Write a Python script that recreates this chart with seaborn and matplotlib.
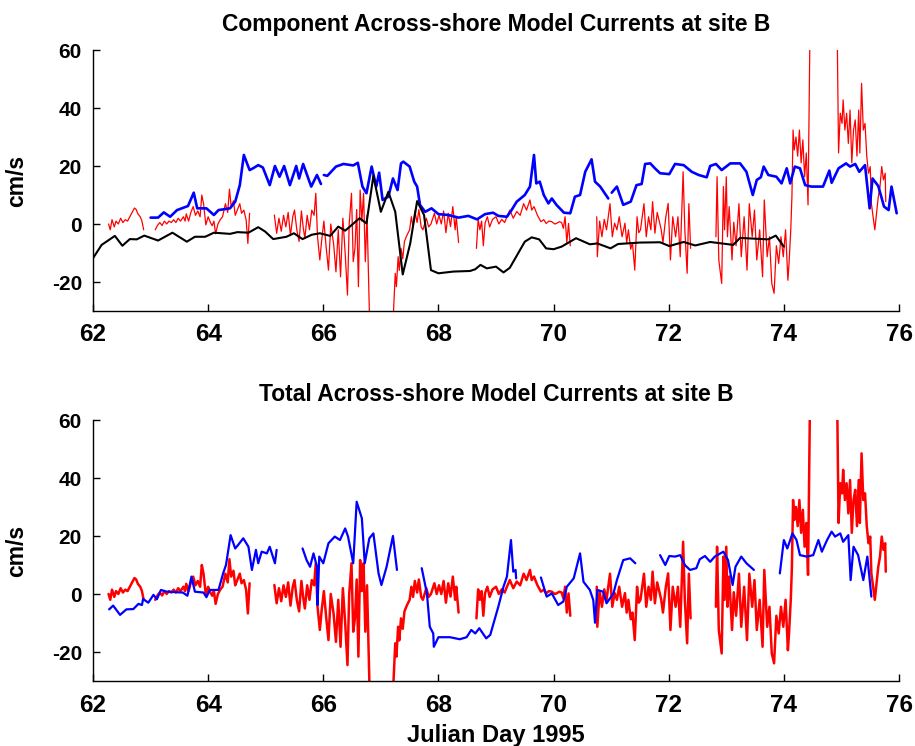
import numpy as np
import pandas as pd
import matplotlib
matplotlib.use('Agg')
import matplotlib.pyplot as plt
import seaborn as sns

nan = np.nan

# observed across-shore current (red), same record in both panels; nan = data gap
red_day = [62.27, 62.30, 62.33, 62.37, 62.40, 62.44, 62.48, 62.52, 62.56, 62.60, 62.64, 62.68, 62.72, 62.75, 62.78, 62.82, 62.85, 62.88, nan,
           63.08, 63.12, 63.16, 63.20, 63.24, 63.28, 63.32, 63.36, 63.40, 63.44, 63.48, 63.52, 63.57, 63.60, 63.62, 63.66, 63.70, 63.74, 63.78, 63.82,
           63.86, 63.89, 63.92, 63.96, 64.00, 64.04, 64.07, 64.10, 64.13, 64.17, 64.21, 64.25, 64.30, 64.34, 64.37, 64.40, 64.44, 64.47, 64.50, 64.55,
           64.58, 64.62, 64.66, 64.69, 64.72, nan,
           65.15, 65.19, 65.23, 65.27, 65.31, 65.35, 65.39, 65.43, 65.47, 65.50, 65.54, 65.58, 65.62, 65.65, 65.68, 65.72, 65.76, 65.80, 65.84, 65.87,
           65.90, 65.94, 65.97, 66.01, 66.05, 66.09, 66.13, 66.18, 66.22, 66.26, 66.30, 66.34, 66.38, 66.42, 66.45, 66.49, 66.52, 66.55, 66.58, 66.61,
           66.64, 66.67, 66.70, 66.73, 66.76, 66.80, 66.83, 67.19, 67.22, 67.25, 67.27, 67.30, 67.32, 67.35, 67.38, 67.41, 67.45, 67.50, 67.53, 67.56,
           67.59, 67.63, 67.66, 67.70, 67.73, 67.79, 67.83, 67.87, 67.93, 67.97, 68.01, 68.05, 68.09, 68.13, 68.17, 68.21, 68.25, 68.29, 68.31, 68.35, nan,
           68.66, 68.69, 68.72, 68.75, 68.78, 68.81, 68.85, 68.89, 68.94, 69.00, 69.05, 69.10, 69.15, 69.19, 69.24, 69.30, 69.36, 69.42, 69.48, 69.53,
           69.59, 69.62, 69.66, 69.72, 69.78, 69.83, 69.87, 69.92, 69.97, 70.02, 70.05, 70.10, 70.14, 70.17, 70.20, 70.23, 70.26, 70.29, nan,
           70.75, 70.76, 70.80, 70.84, 70.88, 70.92, 70.98, 71.02, 71.06, 71.10, 71.14, 71.19, 71.24, 71.27, 71.30, 71.34, 71.37, 71.41, 71.45, 71.48,
           71.51, 71.57, 71.61, 71.65, 71.69, 71.72, 71.76, 71.80, 71.84, 71.87, 71.90, 71.95, 71.99, 72.03, 72.07, 72.12, 72.16, 72.20, 72.25, 72.28,
           72.32, 72.35, 72.38, nan,
           72.82, 72.84, 72.87, 72.92, 72.95, 72.97, 73.00, 73.02, 73.05, 73.10, 73.13, 73.17, 73.22, 73.26, 73.31, 73.36, 73.40, 73.45, 73.49, 73.53,
           73.58, 73.63, 73.66, 73.71, 73.75, 73.79, 73.83, 73.87, 73.91, 73.95, 73.99, 74.03, 74.07, 74.09, 74.12, 74.14, 74.16, 74.18, 74.21, 74.24,
           74.27, 74.30, 74.33, 74.36, 74.39, 74.42, 74.45, 74.47, 74.91, 74.93, 74.95, 74.98, 75.01, 75.03, 75.06, 75.09, 75.12, 75.15, 75.18, 75.21,
           75.24, 75.27, 75.30, 75.32, 75.35, 75.38, 75.41, 75.44, 75.47, 75.50, 75.52, 75.55, 75.58, 75.61, 75.64, 75.67, 75.70, 75.73, 75.76, 75.77]
red_val = [0.0, -2.0, 1.5, -1.0, 1.0, 0.0, 2.0, 0.5, 1.5, 1.0, 2.5, 4.0, 5.5, 5.0, 3.5, 2.5, 1.0, -2.0, nan,
           -2.0, -0.5, 0.5, -0.5, 1.0, 0.0, 1.0, 0.5, 1.5, 0.5, 2.0, 1.0, 2.5, 1.0, 3.5, 1.0, 4.0, 6.0, 3.0, 4.5,
           2.5, 10.0, 7.0, -0.3, 2.5, 0.5, -0.6, 1.0, -3.4, 0.0, 1.5, 2.5, 7.0, 4.0, 12.0, 6.0, 8.0, 3.0, 4.5, 7.0,
           3.7, 4.8, 1.4, -6.7, 3.7, nan,
           3.1, -3.2, 2.0, -2.5, 3.0, -1.0, 4.0, -4.0, 2.5, 4.8, -2.0, -6.0, 4.5, -1.0, -5.0, 3.0, -2.0, 4.8, 3.0, 10.6,
           -4.4, -12.4, -6.0, 1.0, -8.0, -15.9, 0.0, -7.0, -16.5, -2.0, -18.2, 2.0, -10.0, -24.5, 0.0, 10.6, -13.0, -8.4, 5.0, -21.6,
           11.7, 1.0, 10.6, -13.0, 3.0, -30.0, -40.0, -40.0, -30.0, -17.0, -21.6, -11.3, -16.0, -8.4, -12.0, -6.0, -4.0, -2.0, 2.5, -1.0,
           4.5, 0.5, 5.0, -1.0, -2.0, 2.0, -1.0, 0.0, 3.7, 0.0, 3.0, 0.0, 4.5, -3.0, 3.7, -0.9, 6.0, -2.0, 2.5, -6.4, nan,
           -8.4, 1.6, -2.0, 1.0, -7.5, 0.3, 2.5, -1.0, 1.6, 2.5, 0.0, 1.6, 0.5, 2.5, 4.8, 2.0, 4.3, 3.0, 7.0, 4.8,
           8.3, 4.8, 6.0, 3.0, 0.8, 1.5, 0.2, 1.0, 0.8, 0.0, 0.2, 0.8, 0.5, -1.5, 2.5, -6.4, 0.2, -7.5, nan,
           2.5, -11.3, 1.0, -4.4, 1.6, -2.0, 7.0, -4.4, 0.3, -2.0, 2.5, -4.4, 0.3, -6.4, -2.0, -8.7, -6.4, -15.9, 2.5, -3.0,
           -2.0, 7.0, -4.4, 2.5, -2.0, 7.7, -3.2, 4.0, 0.6, -2.0, -6.4, 2.5, 7.1, -12.4, 2.5, -4.4, 2.5, -11.3, 18.0, -2.0,
           -17.0, 7.0, -8.4, nan,
           -4.4, 16.3, -12.4, -20.5, 12.9, -2.0, 16.3, -4.4, 6.0, -12.4, 0.6, -7.5, 7.0, -11.3, 2.5, -15.9, 7.0, -4.4, 4.8, -12.4,
           -2.0, -18.2, 8.3, -11.3, -4.4, -20.5, -23.9, -7.5, -13.6, -4.4, -11.3, -2.0, -19.4, -13.6, -2.0, 9.4, 32.4, 25.5, 30.0, 23.4,
           32.4, 21.1, 29.0, 16.3, 24.5, 6.6, 60.0, 75.0, 75.0, 60.0, 24.5, 38.2, 34.7, 42.8, 32.4, 38.2, 27.8, 39.3, 21.1, 32.4,
           35.9, 23.4, 39.3, 24.5, 48.5, 32.4, 34.7, 23.4, 17.5, 19.8, 7.1, 2.5, -2.0, 3.7, 9.4, 12.9, 19.8, 15.2, 17.5, 7.7]

# component model currents (top panel)
comp_blue_day = [63.00, 63.13, 63.23, 63.34, 63.46, 63.65, 63.75, 63.81, 63.97, 64.10, 64.18, 64.38, 64.47, 64.55, 64.62, 64.72, 64.78, 64.87,
                 64.95, 65.07, 65.16, 65.24, 65.32, 65.42, 65.53, 65.58, 65.65, 65.79, 65.89, 65.96, nan, 66.01, 66.07, 66.22, 66.35, 66.52,
                 66.60, 66.68, 66.75, 66.84, 66.92, 66.97, 67.03, 67.13, 67.21, 67.29, 67.35, 67.39, 67.50, 67.58, 67.63, 67.68, 67.77, 67.88,
                 68.00, 68.17, 68.35, 68.52, 68.67, 68.81, 68.95, 69.04, 69.19, 69.27, 69.36, 69.50, 69.59, 69.66, 69.70, 69.76, 69.83, 69.91,
                 69.97, 70.05, 70.18, 70.29, 70.37, 70.46, 70.55, 70.66, 70.72, 70.81, 70.95, nan, 71.01, 71.10, 71.21, 71.34, 71.44, 71.53,
                 71.59, 71.68, 71.76, 71.85, 72.01, 72.11, 72.26, 72.40, 72.52, 72.66, 72.72, 72.82, 72.92, 73.07, 73.24, 73.35, 73.46, 73.53,
                 73.60, 73.65, 73.73, 73.87, 73.96, 74.05, 74.11, 74.19, 74.28, 74.37, 74.48, 74.68, 74.79, 74.83, 74.95, 75.08, 75.15, 75.24,
                 75.31, 75.41, 75.49, 75.54, 75.64, 75.74, 75.82, 75.87, 75.96]
comp_blue_val = [2.2, 2.2, 4.0, 2.5, 4.8, 6.2, 10.8, 5.4, 5.4, 3.1, 4.8, 5.4, 7.7, 13.4, 23.8, 18.6, 19.2, 20.3,
                 19.5, 13.4, 20.0, 16.3, 20.0, 13.4, 20.0, 15.7, 20.7, 12.9, 16.9, 13.8, nan, 16.9, 16.6, 19.8, 20.7, 20.2,
                 21.1, 12.9, 10.6, 19.8, 12.9, 17.7, 8.3, 9.4, 15.7, 11.7, 20.9, 21.5, 19.8, 14.6, 12.9, 6.6, 4.2, 5.4,
                 3.4, 3.1, 2.2, 2.8, 1.6, 3.4, 3.9, 2.8, 2.5, 4.8, 7.7, 10.0, 12.9, 23.8, 14.0, 14.6, 10.0, 7.1,
                 8.8, 6.6, 3.9, 3.7, 9.4, 10.0, 18.0, 22.3, 14.6, 12.9, 8.8, nan, 10.8, 12.9, 6.6, 7.7, 13.4, 13.8,
                 20.7, 20.9, 19.2, 17.5, 17.2, 20.7, 20.3, 18.0, 16.9, 16.1, 20.0, 20.7, 18.6, 20.9, 20.9, 18.0, 10.0, 15.2,
                 16.1, 19.8, 16.9, 16.3, 14.0, 19.2, 14.0, 19.8, 19.2, 13.4, 12.9, 12.9, 18.4, 14.2, 19.2, 20.9, 19.8, 20.7,
                 18.0, 20.3, 5.4, 15.7, 13.1, 6.0, 4.8, 12.9, 3.7]

comp_black_day = [62.00, 62.15, 62.38, 62.51, 62.64, 62.76, 62.89, 63.13, 63.38, 63.63, 63.77, 63.95, 64.10, 64.38, 64.51, 64.70, 64.87,
                  64.99, 65.13, 65.36, 65.49, 65.64, 65.80, 65.94, 66.12, 66.26, 66.38, 66.63, 66.75, 66.87, 67.00, 67.13, 67.25, 67.38,
                  67.51, 67.63, 67.75, 67.87, 68.00, 68.26, 68.55, 68.64, 68.73, 68.84, 69.00, 69.13, 69.24, 69.50, 69.62, 69.75, 69.87,
                  70.00, 70.14, 70.39, 70.63, 70.76, 70.99, 71.12, 71.50, 71.85, 72.01, 72.26, 72.46, 72.72, 73.12, 73.24, 73.53, 73.73,
                  73.86, 74.00]
comp_black_val = [-11.8, -7.2, -4.1, -7.5, -5.2, -5.3, -4.0, -5.7, -3.0, -6.1, -4.4, -4.4, -3.0, -3.4, -2.8, -3.0, -1.1,
                  -2.6, -5.2, -4.4, -3.2, -5.2, -3.7, -3.2, -4.1, -0.9, -2.3, 2.0, 0.2, 16.6, 4.2, 11.1, 4.2, -17.4,
                  -6.7, 7.9, 3.1, -15.9, -17.0, -16.4, -16.2, -15.6, -14.1, -15.3, -14.7, -16.7, -15.1, -6.1, -4.6, -5.3, -8.4,
                  -8.7, -7.8, -4.9, -7.0, -6.7, -8.4, -6.9, -6.4, -6.3, -7.6, -6.2, -7.4, -6.2, -7.2, -4.8, -5.1, -5.3,
                  -4.0, -7.8]

# total model current (bottom panel)
total_blue_day = [62.28, 62.35, 62.47, 62.58, 62.70, 62.79, 62.85, 62.87, 62.96, 63.05, 63.11, 63.18, 63.28, 63.56, 63.64, 63.71, 63.77,
                  63.92, 63.97, 64.03, 64.18, 64.26, 64.31, 64.39, 64.47, 64.52, 64.61, 64.70, 64.76, 64.83, 64.87, 64.93, 65.02, 65.07,
                  65.16, 65.19, nan, 65.64, 65.71, 65.77, 65.83, 65.89, 65.90, 65.93, 66.00, 66.09, 66.20, 66.29, 66.38, 66.43, 66.52,
                  66.58, 66.67, 66.72, 66.80, 66.87, 66.96, 67.01, 67.10, 67.21, 67.28, nan, 67.71, 67.80, 67.85, 67.91, 67.92, 68.00,
                  68.20, 68.37, 68.49, 68.57, 68.64, 68.71, 68.83, 68.90, 69.04, 69.13, 69.19, 69.26, 69.30, 69.34, 69.35, nan, 69.78,
                  69.88, 69.97, 70.08, 70.17, 70.23, 70.35, 70.46, 70.52, 70.63, 70.69, 70.72, 70.76, 70.86, 70.92, 71.04, 71.10, 71.21,
                  71.33, 71.42, nan, 71.85, 71.94, 72.01, 72.11, 72.20, 72.28, 72.37, 72.48, 72.54, 72.63, 72.72, 72.80, 72.95, 73.03,
                  73.11, 73.16, 73.26, 73.35, 73.48, nan, 73.93, 74.00, 74.06, 74.15, 74.22, 74.28, 74.40, 74.51, 74.60, 74.66, 74.75,
                  74.83, 74.89, 74.98, 75.03, 75.12, 75.16, 75.21, 75.29, 75.38, 75.45, 75.52]
total_blue_val = [-5.3, -4.0, -7.2, -5.3, -5.2, -3.4, -3.8, -1.7, -3.0, -0.3, -1.8, 1.4, 0.8, 0.5, -0.6, 6.0, 0.8,
                  0.5, -1.1, 1.4, 1.4, 7.1, 10.0, 20.3, 15.7, 16.9, 19.2, 16.3, 8.3, 15.2, 10.6, 14.6, 14.0, 16.3,
                  10.6, 15.2, nan, 15.7, 11.7, 9.4, 14.0, 9.4, -3.8, 12.9, 10.6, 17.5, 19.8, 18.6, 22.6, 19.8, 10.6,
                  31.8, 26.1, 10.6, 19.2, 20.9, 7.1, 3.1, 9.4, 20.0, 8.3, nan, 8.9, 0.2, -11.3, -13.6, -18.2, -14.9,
                  -14.9, -15.6, -14.9, -12.4, -13.6, -11.8, -15.3, -14.1, -4.4, 2.5, 6.0, 18.6, 7.7, 8.3, 5.4, nan, 5.7,
                  -0.9, 0.2, -3.8, -2.6, 2.5, 5.4, 14.0, 4.2, 1.4, -2.1, -9.9, 1.4, 0.8, -3.2, 0.2, 4.8, 11.7,
                  12.3, 10.6, nan, 13.4, 10.0, 13.1, 12.9, 13.4, 10.0, 8.3, 8.9, 12.0, 13.1, 11.1, 12.9, 14.6, 11.7,
                  3.1, 9.4, 12.9, 10.6, 8.3, nan, 7.1, 18.6, 15.7, 20.9, 18.6, 13.4, 12.9, 13.4, 18.6, 14.6, 18.6,
                  21.5, 19.8, 20.9, 18.0, 20.3, 4.8, 16.3, 13.4, 4.8, 12.9, -0.9]

x_ticks = [62, 64, 66, 68, 70, 72, 74, 76]
y_ticks = [-20, 0, 20, 40, 60]


def to_frame(days, vals):
    # split a record at nan markers so gaps stay open
    df = pd.DataFrame({'day': days, 'cms': vals})
    df['seg'] = df['day'].isna().cumsum()
    return df.dropna()


sns.set_theme(style='white')
plt.rcParams['font.family'] = ['Liberation Sans', 'DejaVu Sans']
plt.rcParams['text.color'] = 'black'
plt.rcParams['axes.labelcolor'] = 'black'

red = to_frame(red_day, red_val)
comp_blue = to_frame(comp_blue_day, comp_blue_val)
comp_black = to_frame(comp_black_day, comp_black_val)
total_blue = to_frame(total_blue_day, total_blue_val)

fig = plt.figure(figsize=(9.15, 7.46), dpi=100)
ax1 = fig.add_axes([93 / 915, 1 - 311 / 746, 806 / 915, 261 / 746])
ax2 = fig.add_axes([93 / 915, 1 - 681 / 746, 806 / 915, 261 / 746])

kw = dict(x='day', y='cms', units='seg', estimator=None, sort=False, legend=False)
sns.lineplot(data=red, color='#ff0000', linewidth=0.9, ax=ax1, **kw)
sns.lineplot(data=comp_blue, color='#0000ff', linewidth=1.9, ax=ax1, **kw)
sns.lineplot(data=comp_black, color='black', linewidth=1.5, ax=ax1, **kw)

sns.lineplot(data=red, color='#ff0000', linewidth=1.8, ax=ax2, **kw)
sns.lineplot(data=total_blue, color='#0000ff', linewidth=1.6, ax=ax2, **kw)

titles = ['Component Across-shore Model Currents at site B',
          'Total Across-shore Model Currents at site B']
for ax, title in zip([ax1, ax2], titles):
    ax.set_xlim(62, 76)
    ax.set_ylim(-30, 60)
    ax.set_xticks(x_ticks)
    ax.set_yticks(y_ticks)
    ax.set_xticklabels([str(t) for t in x_ticks], fontsize=17.5, fontweight='bold', color='black')
    ax.set_yticklabels([str(t) for t in y_ticks], fontsize=15, fontweight='bold', color='black')
    ax.tick_params(direction='in', length=5, width=1, colors='black', pad=8,
                   bottom=True, left=True, top=False, right=False)
    ax.tick_params(axis='x', pad=9)
    sns.despine(ax=ax)
    for side in ['left', 'bottom']:
        ax.spines[side].set_color('black')
        ax.spines[side].set_linewidth(1)
    ax.set_title(title, fontsize=16.5, fontweight='bold', pad=14, color='black')
    ax.set_ylabel('cm/s', fontsize=16.5, fontweight='bold', color='black')
    ax.yaxis.set_label_coords(-0.081, 0.5)
    ax.set_xlabel('')

ax2.set_xlabel('Julian Day 1995', fontsize=17, fontweight='bold', color='black')
ax2.xaxis.set_label_coords(0.5, -0.165)

fig.savefig('out.png', dpi=100)
